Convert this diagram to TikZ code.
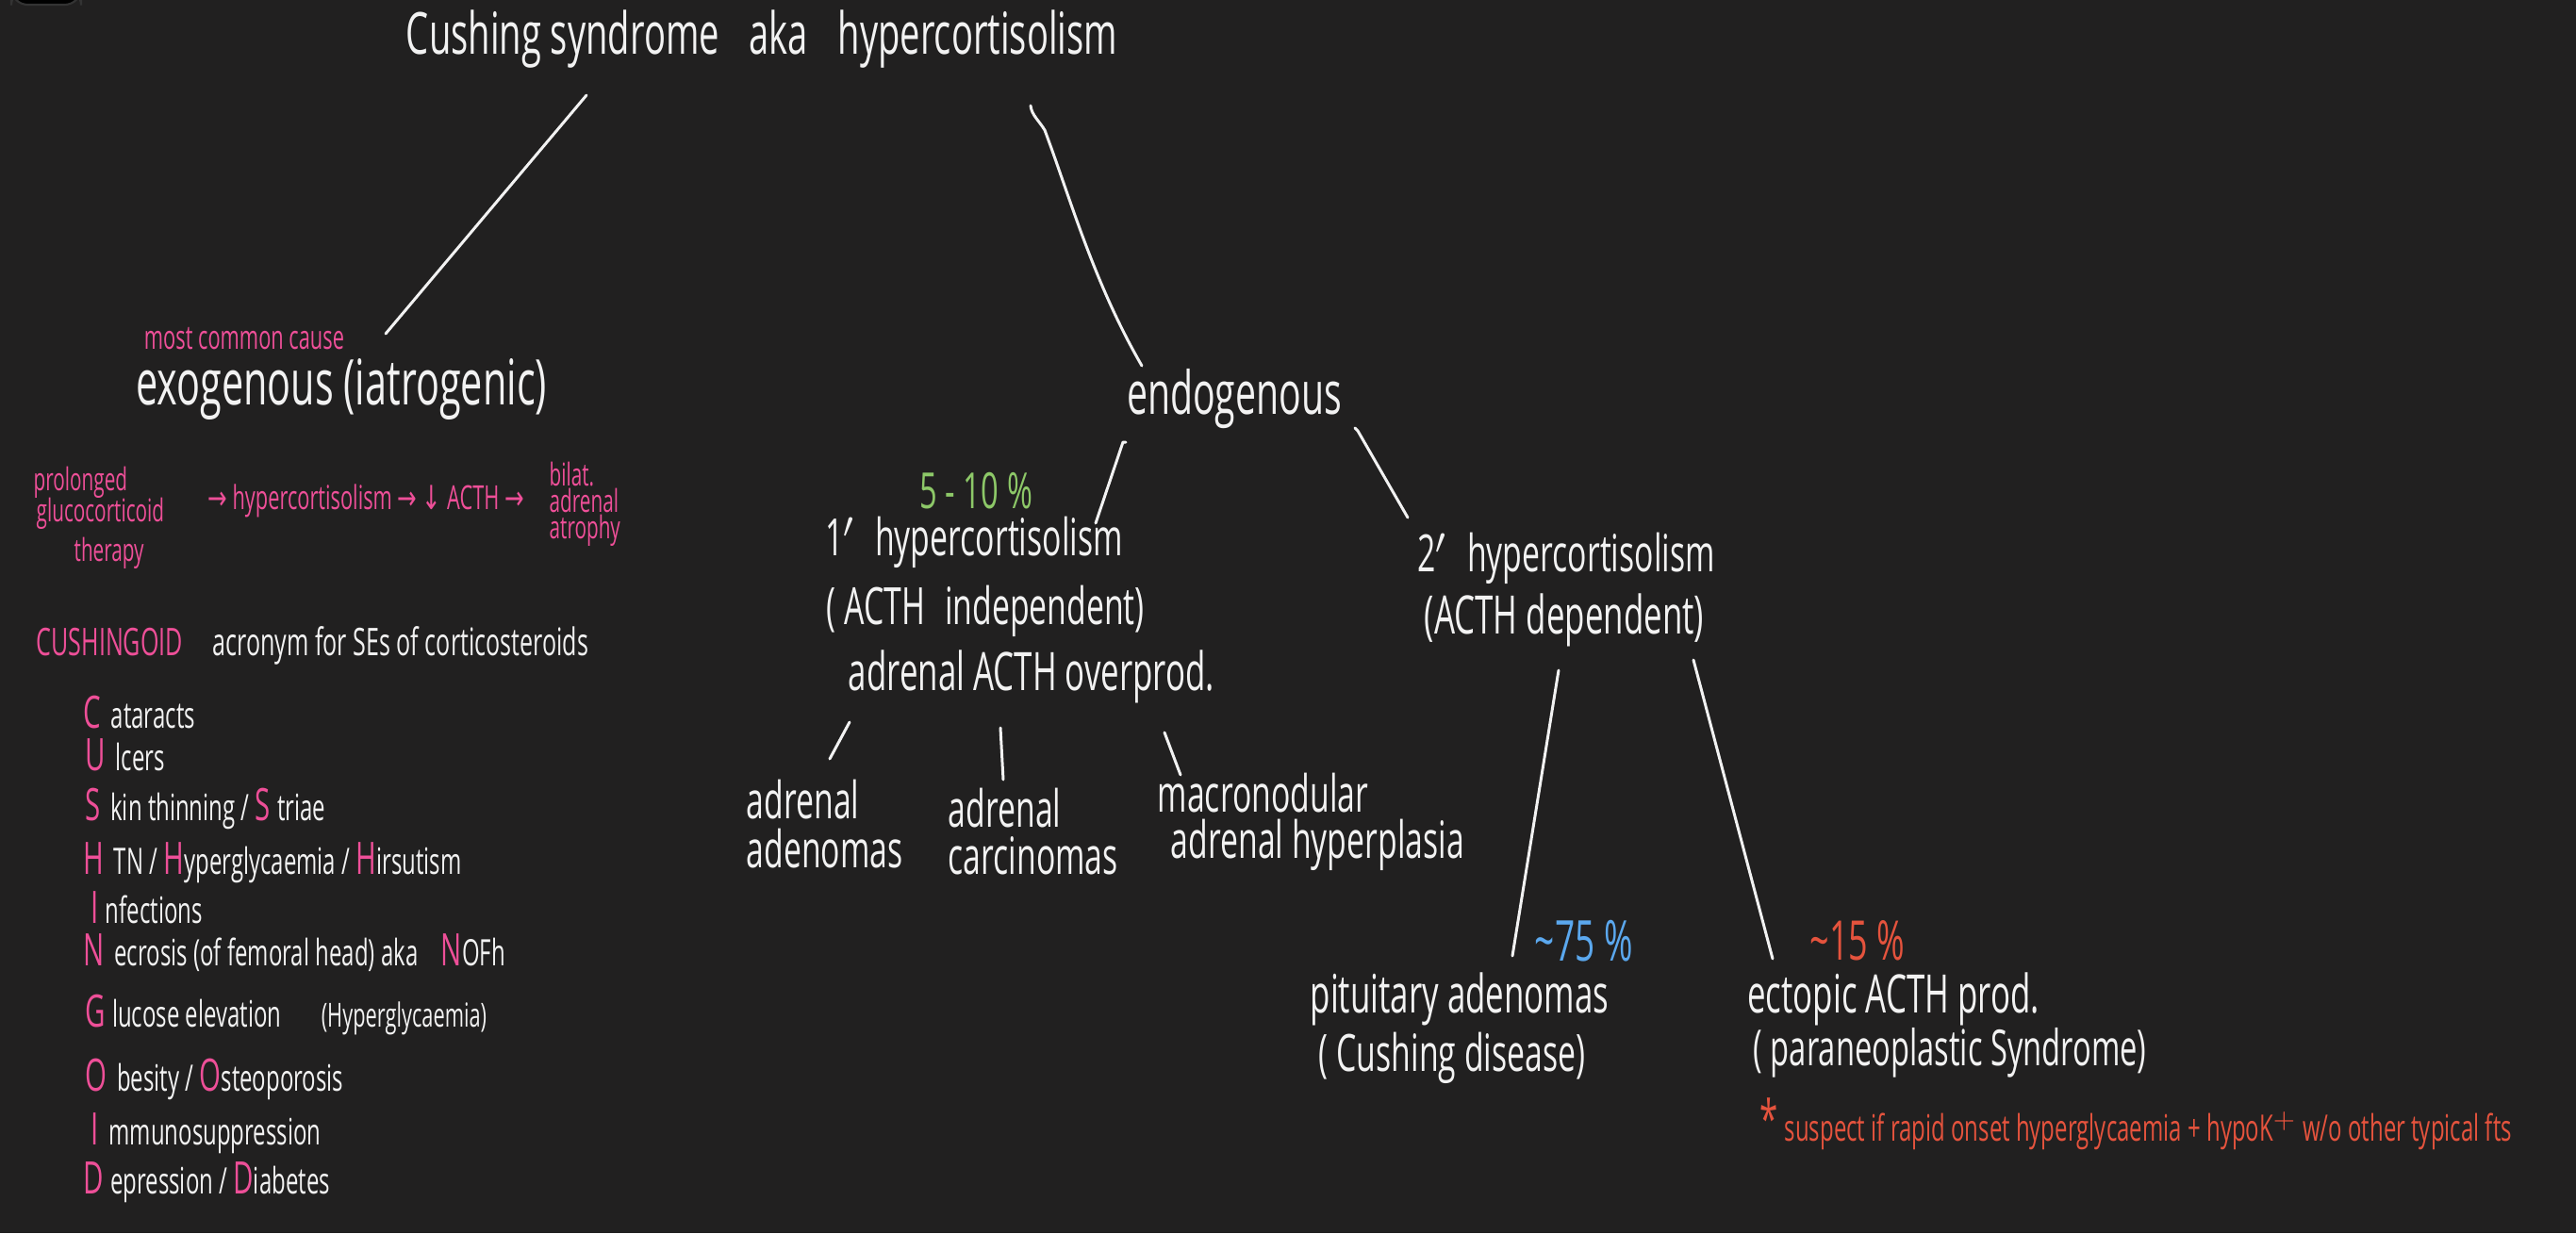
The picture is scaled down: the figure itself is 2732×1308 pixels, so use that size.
\documentclass[tikz,border=0pt]{standalone}
\usepackage{fontspec}
\setmainfont{Open Sans}[FakeStretch=0.62]
\newfontfamily\symf{DejaVu Sans}[FakeStretch=0.7]
\usetikzlibrary{calc}
\definecolor{bg}{HTML}{212020}
\definecolor{inkw}{HTML}{F2F2F2}
\definecolor{pinkc}{HTML}{EE4F98}
\definecolor{greenc}{HTML}{8DC868}
\definecolor{bluec}{HTML}{5BA8EE}
\definecolor{redc}{HTML}{E5533D}
\newcommand\fsz[1]{\fontsize{#1}{#1}\selectfont}
\newcommand\pk[1]{\textcolor{pinkc}{#1}}
\newcommand\pkl[1]{\textcolor{pinkc}{\fsz{13.5}#1}}
\newcommand\arr{{\symf →}}
\newcommand\darr{{\symf ↓}}
\begin{document}
\begin{tikzpicture}[x=0.01cm,y=-0.01cm,
  lbl/.style={text=inkw, inner sep=0pt, anchor=center},
  pinktxt/.style={text=pinkc, inner sep=0pt},
  item/.style={text=inkw, inner sep=0pt, anchor=west, font=\fsz{11}},
  conn/.style={draw=inkw, line width=0.85pt, line cap=round, line join=round}]
\fill[bg] (0,0) rectangle (2732,1308);
\useasboundingbox (0,0) rectangle (2732,1308);
\fill[black, draw=black!60!gray, line width=0.6pt, rounded corners=5pt] (12,-12) rectangle (86,5);

% title
\node[lbl, font=\fsz{17.5}] (title) at (808,42) {Cushing syndrome\hspace{9pt}aka\hspace{9pt}hypercortisolism};

% exogenous branch
\node[pinktxt, font=\fsz{10}] (mcc) at (259,359) {most common cause};
\node[lbl, font=\fsz{19}] (exo) at (362,413) {exogenous (iatrogenic)};
\node[pinktxt, font=\fsz{9.5}, anchor=west] (pro1) at (35,512) {prolonged};
\node[pinktxt, font=\fsz{9.5}, anchor=west] (pro2) at (38,545) {glucocorticoid};
\node[pinktxt, font=\fsz{9.5}, anchor=west] (pro3) at (78,587) {therapy};
\node[pinktxt, font=\fsz{10}] (chain) at (388,531) {\arr\ hypercortisolism \arr\ \darr\ ACTH \arr};
\node[pinktxt, font=\fontsize{9.5}{8}\selectfont, anchor=west, align=left] (bil) at (582,535) {bilat.\\adrenal\\atrophy};

% CUSHINGOID
\node[item, font=\fsz{11.5}] (cush) at (38,685) {\pk{\fsz{11.5}CUSHINGOID}\hspace{9pt}acronym for SEs of corticosteroids};
\node[item] (i1) at (88,756) {\pkl{C}\hspace{3pt}ataracts};
\node[item] (i2) at (90,801) {\pkl{U}\hspace{3pt}lcers};
\node[item] (i3) at (90,858) {\pkl{S}\hspace{3pt}kin thinning / \pkl{S}\hspace{2pt}triae};
\node[item] (i4) at (88,915) {\pkl{H}\hspace{3pt}TN / \pkl{H}yperglycaemia / \pkl{H}irsutism};
\node[item] (i5) at (96,963) {\pkl{I}\hspace{2pt}nfections};
\node[item] (i6) at (88,1011) {\pkl{N}\hspace{3pt}ecrosis (of femoral head) aka\hspace{7pt}\pkl{N}OFh};
\node[item] (i7) at (90,1077) {\pkl{G}\hspace{2pt}lucose elevation\hspace{12pt}{\fsz{10}(Hyperglycaemia)}};
\node[item] (i8) at (90,1145) {\pkl{O}\hspace{3pt}besity / \pkl{O}steoporosis};
\node[item] (i9) at (96,1202) {\pkl{I}\hspace{3pt}mmunosuppression};
\node[item] (i10) at (88,1254) {\pkl{D}\hspace{2pt}epression / \pkl{D}iabetes};

% endogenous branch
\node[lbl, font=\fsz{18}] (endo) at (1309,423) {endogenous};
\node[lbl, text=greenc, font=\fsz{15}] (p510) at (1035,521) {5\,-\,10\,\%};
\node[lbl, font=\fsz{15.5}] (prim1) at (1033,575) {1$'$\hspace{6pt}hypercortisolism};
\node[lbl, font=\fsz{15.5}] (prim2) at (1045,648) {(\,ACTH\hspace{6pt}independent)};
\node[lbl, font=\fsz{16}] (prim3) at (1094,718) {adrenal ACTH overprod.};
\node[lbl, font=\fontsize{15.5}{14.8}\selectfont, anchor=west, align=left] (aa) at (791,874) {adrenal\\adenomas};
\node[lbl, font=\fontsize{15.5}{14}\selectfont, anchor=west, align=left] (ac) at (1005,882) {adrenal\\carcinomas};
\node[lbl, font=\fontsize{15.5}{14}\selectfont, anchor=west, align=left] (mh) at (1227,872) {macronodular\\\hspace*{4pt}adrenal hyperplasia};
\node[lbl, font=\fsz{15.5}] (sec1) at (1661,592) {2$'$\hspace{6pt}hypercortisolism};
\node[lbl, font=\fsz{16}] (sec2) at (1659,658) {(ACTH dependent)};
\node[lbl, text=bluec, font=\fsz{17}] (p75) at (1680,998) {\textasciitilde 75\,\%};
\node[lbl, text=redc, font=\fsz{16.5}] (p15) at (1970,998) {\textasciitilde 15\,\%};
\node[lbl, font=\fsz{16}] (pit1) at (1548,1060) {pituitary adenomas};
\node[lbl, font=\fsz{15.5}] (pit2) at (1540,1122) {(\,Cushing disease)};
\node[lbl, font=\fsz{16}] (ect1) at (2008,1060) {ectopic ACTH prod.};
\node[lbl, font=\fsz{15}] (ect2) at (2068,1117) {(\,paraneoplastic Syndrome)};
\node[lbl, text=redc, font=\fsz{16}] (ast) at (1876,1186) {*};
\node[text=redc, inner sep=0pt, anchor=west, font=\fsz{11}] (note) at (1892,1200) {suspect if rapid onset hyperglycaemia\,+ hypoK$^{+}$ w/o other typical fts};

% connector end points
\coordinate (a1) at (622,101);  \coordinate (a2) at (409,354);
\coordinate (b1) at (1093,112); \coordinate (b2) at (1211,388);
\coordinate (c1) at (1194,469); \coordinate (c2) at (1162,555);
\coordinate (d1) at (1437,454); \coordinate (d2) at (1493,549);
\coordinate (e1) at (901,766);  \coordinate (e2) at (880,805);
\coordinate (f1) at (1061,772); \coordinate (f2) at (1064,827);
\coordinate (g1) at (1235,777); \coordinate (g2) at (1252,822);
\coordinate (h1) at (1653,711); \coordinate (h2) at (1604,1014);
\coordinate (k1) at (1796,700); \coordinate (k2) at (1880,1017);

\draw[conn] (a1) -- (a2);
\draw[conn] (b1) .. controls (1094,122) and (1102,128) .. (1108,138)
  .. controls (1135,210) and (1160,300) .. (b2);
\draw[conn] (c1) -- ++(-3,0) -- (c2);
\draw[conn] (d1) -- ++(3,3) -- (d2);
\draw[conn] (e1) -- (e2);
\draw[conn] (f1) -- (f2);
\draw[conn] (g1) -- (g2);
\draw[conn] (h1) -- (h2);
\draw[conn] (k1) -- (k2);
\end{tikzpicture}
\end{document}
